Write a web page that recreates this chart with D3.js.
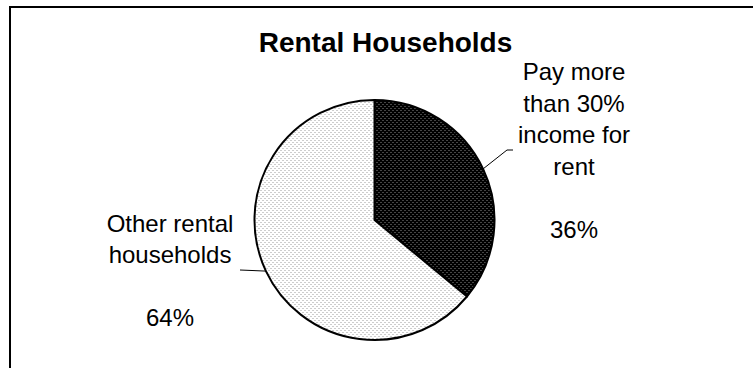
<!DOCTYPE html>
<html>
<head>
<meta charset="utf-8">
<script src="https://cdn.jsdelivr.net/npm/d3@7"></script>
<style>
  html, body { margin: 0; padding: 0; background: #fff; }
  svg { display: block; }
  text { font-family: "Liberation Sans", Arial, sans-serif; fill: #000; }
</style>
</head>
<body>
<svg id="chart" width="753" height="368"></svg>
<script>
"use strict";

/********/
/* data */
/********/

const title = "Rental Households";
const categories = ["Pay more than 30% income for rent", "Other rental households"];
const values = [36, 64];
const labelLines = [
  ["Pay more", "than 30%", "income for", "rent", "", "36%"],
  ["Other rental", "households", "", "64%"],
];
const patterns = ["dotsDark", "dotsLight"];

/**********/
/* layout */
/**********/

const width = 753;
const height = 368;
const cx = 374.5;
const cy = 220;
const radius = 120;
const lineHeight = 31.5;
// label box centre and leader end, relative to pie centre
const labelBoxes = [
  { x: 199.5, y: -70, lx: 138.5, elbow: 132.5 },
  { x: -204.5, y: 50, lx: -134.5, elbow: null },
];

/********/
/* view */
/********/

const svg = d3.select("#chart");

const defs = svg.append("defs");

function dotPattern(id, bg, dot) {
  const p = defs
    .append("pattern")
    .attr("id", id)
    .attr("patternUnits", "userSpaceOnUse")
    .attr("width", 4)
    .attr("height", 4);
  p.append("rect").attr("width", 4).attr("height", 4).attr("fill", bg);
  p.append("rect").attr("x", 0).attr("y", 0).attr("width", 1).attr("height", 1).attr("fill", dot);
  p.append("rect").attr("x", 2).attr("y", 2).attr("width", 1).attr("height", 1).attr("fill", dot);
}
dotPattern("dotsDark", "#000", "#8a8a8a");
dotPattern("dotsLight", "#fff", "#9a9a9a");

// frame (left and top edges only)
svg
  .append("path")
  .attr("d", "M10," + height + "V7H" + width)
  .attr("fill", "none")
  .attr("stroke", "#000")
  .attr("stroke-width", 2);

svg
  .append("text")
  .attr("x", 385.5)
  .attr("y", 52)
  .attr("text-anchor", "middle")
  .attr("font-size", "28px")
  .attr("font-weight", "bold")
  .text(title);

const pie = d3
  .pie()
  .sort(null)
  .value(d => d);

const arcs = pie(values);

const arc = d3
  .arc()
  .innerRadius(0)
  .outerRadius(radius);

const g = svg
  .append("g")
  .attr("transform", "translate(" + cx + "," + cy + ")");

g.selectAll("path.slice")
  .data(arcs)
  .join("path")
  .attr("class", "slice")
  .attr("d", arc)
  .attr("fill", (d, i) => "url(#" + patterns[i] + ")")
  .attr("stroke", "#000")
  .attr("stroke-width", 2)
  .attr("stroke-linejoin", "round");

// leader lines
arcs.forEach(function(d, i) {
  const mid = (d.startAngle + d.endAngle) / 2;
  const x0 = Math.sin(mid) * radius;
  const y0 = -Math.cos(mid) * radius;
  const box = labelBoxes[i];
  const pts = [[x0, y0]];
  if (box.elbow !== null) pts.push([box.elbow, box.y]);
  pts.push([box.lx, box.y]);
  g.append("path")
    .attr("d", d3.line()(pts))
    .attr("fill", "none")
    .attr("stroke", "#000")
    .attr("stroke-width", 1);

  const lines = labelLines[i];
  const top = box.y - (lines.length * lineHeight) / 2;
  const t = g
    .append("text")
    .attr("text-anchor", "middle")
    .attr("font-size", "24px");
  lines.forEach(function(line, j) {
    t.append("tspan")
      .attr("x", box.x)
      .attr("y", top + j * lineHeight + 24.5)
      .text(line);
  });
});
</script>
</body>
</html>
